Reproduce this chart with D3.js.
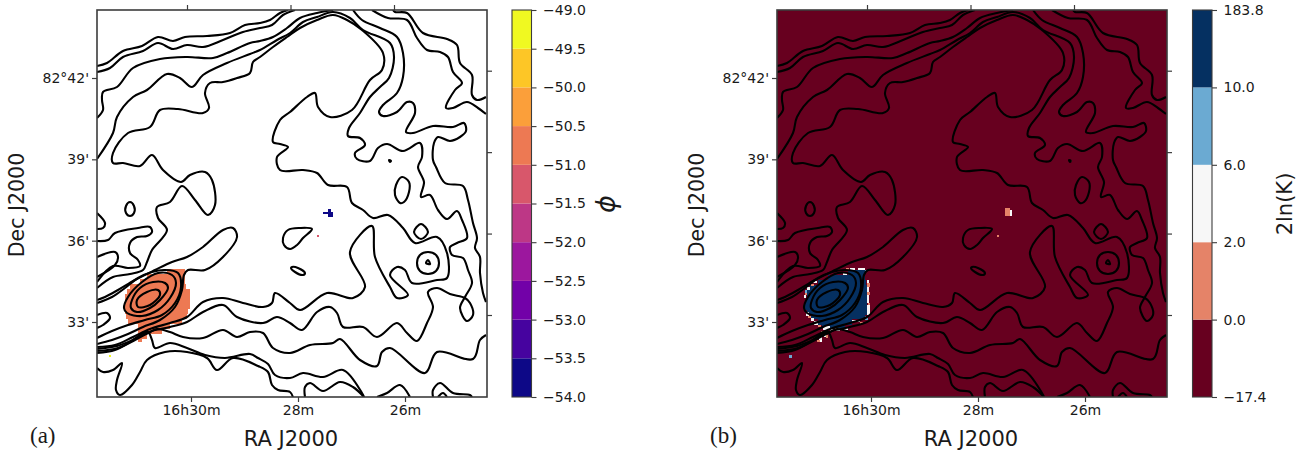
<!DOCTYPE html>
<html><head><meta charset="utf-8">
<script src="https://cdnjs.cloudflare.com/ajax/libs/d3/7.8.5/d3.min.js"></script>
<style>
html,body{margin:0;padding:0;background:#fff}
svg{display:block}
text{font-family:"DejaVu Sans",sans-serif;fill:#1a1a1a}
</style></head><body><svg id="fig" width="1312" height="455"></svg>
<script>
// Tick values
const raTicks = [30, 28, 26];
const raLabels = ["16h30m", "28m", "26m"];
const decTicks = [42, 39, 36, 33];
const decLabels = ["82°42'", "39'", "36'", "33'"];
// Colour-bar values
const phiBounds = [-54,-53.5,-53,-52.5,-52,-51.5,-51,-50.5,-50,-49.5,-49];
const phiColors = ["#0d0887","#46039f","#7201a8","#9c179e","#bd3786","#d8576b","#ed7953","#fb9f3a","#fdc626","#f0f921"];
const kLabels = ["\u221217.4","0.0","2.0","6.0","10.0","183.8"];
const kColors = ["#67001f","#e58368","#f7f7f7","#6baad2","#053061"];
// Map cells on the sky grid: [rowTop, rowBottom, colStart, colEnd]
const phiPatch = [[269,274,167,185],[274,279,147,185],[279,284,140,185],[284,289,130,186],[289,294,127,190],
 [294,299,125,190],[299,309,125,190],[309,314,125,188],[314,319,126,187],[319,324,128,182],[324,329,138,170],[329,334,138,162],[334,339,139,147],[339,342,138,142]];
const phiSpotLow = [[209,212,328,331],[212,214,323,333],[214,217,328,333]];
const phiSpotMid = [[235,237,317,319]];
const phiSpotHigh = [[355,357,109,111]];
const kPatch = [[270,275,168,185],[275,280,148,185],[280,285,138,186],[285,290,130,187],[290,300,127,187],[300,310,125,187],
 [310,315,127,187],[315,319,131,185],[319,325,138,172],[325,328,142,165]];
const kFringeWhite = [[268,270,178,185],[272,275,163,167],[281,283,133,137],[287,290,127,130],[295,298,124,126],[312,316,126,129],[318,321,131,134],
 [280,292,187,189],[295,303,187,189],[305,315,187,190],[268,270,170,175],[321,325,134,138],[326,330,143,150],[328,330,155,168],[320,322,172,180],[329,331,150,160],[333,337,144,147],[337,342,139,142],[210,216,330,332],[208,210,328,330]];
const kFringeOrange = [[268,270,166,169],[284,286,131,134],[292,295,125,127],[316,318,128,131],[292,295,187,190],[303,305,188,190],[283,287,187,190],[325,327,138,141],[331,334,141,145],[335,338,146,148],[340,342,137,140],[322,324,180,183],[208,216,325,330],[235,237,317,319],[160,162,389,392]];
const kFringeBlue = [[270,272,185,187],[290,293,125,127],[316,320,185,188],[355,358,109,112]];
// Contour traces on the sky grid: [col, row]
const contourA = [[97,66],[107,63],[123,51],[142,46],[158,37],[173,41],[185,37],[207,36],[230,33],[245,25],[260,23],[270,20],[280,13],[288,10]];
const contourB = [[97,72],[110,68],[123,57],[143,51],[158,43],[173,49],[187,45],[203,47],[223,40],[243,32],[260,28],[272,25],[283,15],[295,10]];
const contourC = [[97,118],[103,110],[102,100],[103,92],[117,87],[133,68],[160,59],[187,57],[213,58],[227,53],[250,43],[260,41],[273,37],[287,28],[300,18],[317,13],[333,10]];
const contourC2 = [[353,10],[362,20],[380,28],[397,37],[403,53],[403,77],[397,93],[383,105],[379,112],[383,116],[397,112],[407,102],[413,103],[415,113],[406,132],[413,133],[433,126],[453,127],[464,123],[466,131],[460,137],[450,141],[438,137],[434,143],[433,160],[436,167],[445,183],[463,186],[468,200],[473,223],[477,238],[475,248],[480,257],[480,273],[483,293],[486,302]];
const contourD = [[97,159],[113,133],[117,117],[133,97],[147,90],[167,74],[180,78],[192,87],[203,75],[227,63],[250,54],[260,50],[277,40],[290,33],[303,22],[317,17],[333,12],[350,18],[363,30],[390,43],[394,57],[389,78],[380,87],[370,97],[360,113],[349,128],[348,136],[360,138],[365,145],[355,153],[357,159],[370,161],[378,148],[387,144],[403,151],[420,143],[422,157],[418,167],[424,182],[421,197],[430,195],[438,210],[447,219],[457,211],[462,220],[467,238],[457,243],[450,247],[452,255],[463,258],[468,270],[472,283],[465,297],[460,308],[467,321],[473,315],[470,303],[465,298],[450,294],[437,288],[428,292],[433,307],[427,323],[417,341],[407,333],[397,323],[377,337],[363,327],[343,327],[337,313],[330,307],[317,312],[302,330],[290,323],[277,317],[263,323],[237,317],[223,305],[203,312],[187,322],[170,327],[152,331],[135,339],[117,346],[97,349]];
const contourE = [[97,347],[115,345],[133,337],[150,329],[170,323],[187,317],[203,302],[223,298],[243,303],[263,307],[272,303],[275,293],[290,303],[300,310],[327,293],[353,298],[365,287],[350,252],[372,226],[375,257],[390,287],[397,298],[408,295],[390,275],[397,267],[405,270],[412,283],[437,280],[447,278],[447,253],[437,237],[415,243],[403,228],[388,215],[373,218],[363,210],[352,203],[347,187],[328,185],[317,173],[303,170],[280,170],[277,157],[288,147],[280,144],[273,142],[280,120],[290,112],[307,97],[315,93],[318,107],[330,117],[352,110],[370,80],[382,70],[383,53],[362,30],[347,20],[333,15],[317,20],[300,28],[287,37],[273,47],[260,57],[253,62],[250,73],[237,78],[223,82],[210,83],[205,93],[209,108],[203,113],[178,109],[160,110],[150,127],[128,133],[113,153],[113,163],[123,163],[140,166],[152,155],[163,170],[181,182],[190,175],[205,172],[212,180],[215,205],[208,215],[195,200],[182,186],[170,202],[157,207],[158,218],[167,230],[152,250],[147,262],[143,270],[130,274],[113,277],[97,288]];
const contourT = [[97,241],[108,240],[115,233],[138,228],[150,227],[152,232],[147,236],[137,237],[130,243],[130,253],[138,260],[140,266],[128,268],[113,266],[97,282]];
const contourH = [[97,257],[115,252],[118,257],[115,265],[97,277]];
const contourI = [[97,344],[112,340],[128,334],[143,327],[160,320],[175,307],[182,290],[184,275],[188,270],[205,270],[223,257],[237,237],[233,228],[223,230],[203,247],[187,257],[172,262],[155,270],[135,280],[118,290],[105,297],[97,300]];
const contourJ = [[97,303],[112,297],[125,288],[138,278],[152,272],[165,270],[178,273],[181,287],[175,303],[162,315],[145,320],[128,325],[112,331],[97,338]];
const contourL = [[97,351],[118,348],[135,340],[150,332],[157,329],[170,332],[183,337],[203,338],[223,330],[237,337],[250,332],[263,333],[273,348],[290,353],[310,345],[333,343],[340,339],[360,360],[377,366],[382,352],[390,348],[425,373],[437,352],[473,359],[480,340],[486,335]];
const contourM = [[97,353],[115,350],[130,342],[140,335],[148,332],[152,340],[155,348],[170,343],[187,348],[205,355],[225,358],[250,354],[258,358],[268,364],[275,375],[290,378],[303,373],[323,377],[343,370],[362,393],[364,397]];
const contourQ = [[97,368],[103,372],[113,370],[122,363],[117,380],[116,390],[120,395],[132,385],[140,372],[147,360],[165,352],[187,352],[207,358],[217,370],[233,358],[258,366],[268,372],[272,385],[278,390],[290,392],[293,397]];
const contourR = [[305,397],[305,387],[310,383],[323,391],[340,382],[353,387],[364,397]];
const contourS = [[377,397],[387,393],[400,385],[410,397]];
const contourU = [[433,397],[433,390],[440,383],[453,393],[470,395],[472,397]];
const contourV = [[438,397],[443,393],[447,397]];
const contourW = [[372,10],[388,18],[407,20],[417,38],[427,50],[440,52],[448,57],[453,72],[462,83],[455,90],[446,108],[453,108],[467,102],[478,108],[486,114]];
const contourX = [[393,10],[395,12],[407,13],[423,33],[447,39],[457,45],[460,63],[472,75],[472,95],[477,100],[486,97]];
const contourY = [[97,213],[105,223],[103,228],[97,229]];
const contourZ = [[97,315],[107,313],[110,318],[103,325],[97,328]];
const loopA = [[130,202],[134,206],[134,213],[130,216],[126,213],[126,206]];
const loopB = [[402,177],[409,182],[409,192],[404,202],[400,203],[395,195],[396,185]];
const loopC = [[421,224],[428,232],[421,239],[414,232]];
const loopD = [[428,252],[436,255],[439,263],[436,271],[428,274],[420,271],[417,263],[420,255]];
const loopE = [[283,238],[288,230],[300,228],[312,229],[303,238],[297,245],[290,249],[284,245]];
const loopF = [[292,267],[298,268],[305,273],[303,275],[295,272],[291,268]];
const loopG = [[137,300],[147,292],[158,290],[160,295],[150,305],[138,307]];
const loopH = [[132,300],[140,288],[153,282],[165,283],[168,288],[160,300],[150,308],[137,312],[131,308]];
const loopI = [[124,308],[128,297],[142,282],[158,273],[172,275],[176,283],[170,298],[158,310],[142,316],[127,313]];
const loopJ = [[426,263],[428,260],[430,264]];
const loopK = [[389,160],[391,161],[390,162]];
const openContours = [contourA,contourB,contourC,contourC2,contourD,contourE,contourT,contourH,contourI,contourJ,contourL,contourM,contourQ,contourR,contourS,contourU,contourV,contourW,contourX,contourY,contourZ];
const closedContours = [loopA,loopB,loopC,loopD,loopE,loopF,loopG,loopH,loopI,loopJ,loopK];

const gridCols = [97,487], gridRows = [10,397];
const svg = d3.select("#fig");
const frame = "#3c3c3c";

function panel(cfg){
  const [L,R] = cfg.xr, T = 10, B = 397;
  const x = d3.scaleLinear().domain(gridCols).range([L,R]);
  const y = d3.scaleLinear().domain(gridRows).range([T,B]);
  const g = svg.append("g");
  const clipId = "clip"+cfg.name;
  g.append("clipPath").attr("id",clipId).append("rect").attr("x",L).attr("y",T).attr("width",R-L).attr("height",B-T);
  const plot = g.append("g").attr("clip-path",`url(#${clipId})`);
  plot.append("rect").attr("x",L).attr("y",T).attr("width",R-L).attr("height",B-T).attr("fill",cfg.bg);
  cfg.layers.forEach(([rows,col])=>{
    plot.selectAll(null).data(rows).join("rect")
      .attr("x",d=>x(d[2])).attr("y",d=>y(d[0]))
      .attr("width",d=>x(d[3])-x(d[2])).attr("height",d=>y(d[1])-y(d[0]))
      .attr("fill",col).attr("shape-rendering","crispEdges");
  });
  const lineOpen = d3.line().x(d=>x(d[0])).y(d=>y(d[1])).curve(d3.curveCatmullRom.alpha(0.5));
  const lineClosed = d3.line().x(d=>x(d[0])).y(d=>y(d[1])).curve(d3.curveCatmullRomClosed.alpha(0.5));
  plot.selectAll(null).data(openContours).join("path").attr("d",lineOpen)
    .attr("fill","none").attr("stroke","#000").attr("stroke-width",2.1).attr("stroke-linejoin","round");
  plot.selectAll(null).data(closedContours).join("path").attr("d",lineClosed)
    .attr("fill","none").attr("stroke","#000").attr("stroke-width",2.1).attr("stroke-linejoin","round");
  g.append("rect").attr("x",L).attr("y",T).attr("width",R-L).attr("height",B-T)
    .attr("fill","none").attr("stroke",frame).attr("stroke-width",1.6);
  // Axes: the sky grid is slightly curved, so each side has its own scale
  const raB = d3.scaleLinear().domain([30,26]).range([L+94,L+308]);
  const raT = d3.scaleLinear().domain([30,26]).range([L+90,L+297]);
  const decL = d3.scaleLinear().domain([33,42]).range([322,78]);
  const decR = d3.scaleLinear().domain([33,42]).range([315,70.7]);
  const style = s=>{ s.select(".domain").remove(); s.selectAll("line").attr("stroke",frame).attr("stroke-width",1.2);
    s.selectAll("text").style("font-size","14px").attr("fill","#1a1a1a"); };
  g.append("g").attr("transform",`translate(0,${B})`).call(d3.axisBottom(raB).tickValues(raTicks).tickFormat((d,i)=>raLabels[i]).tickSize(5).tickPadding(3)).call(style);
  g.append("g").attr("transform",`translate(0,${T})`).call(d3.axisTop(raT).tickValues(raTicks).tickFormat("").tickSize(5)).call(style);
  g.append("g").attr("transform",`translate(${L},0)`).call(d3.axisLeft(decL).tickValues(decTicks).tickFormat((d,i)=>decLabels[i]).tickSize(5).tickPadding(3)).call(style);
  g.append("g").attr("transform",`translate(${R},0)`).call(d3.axisRight(decR).tickValues(decTicks).tickFormat("").tickSize(5)).call(style);
  g.append("text").attr("x",(L+R)/2-1).attr("y",446).attr("text-anchor","middle").style("font-size","21px").text("RA J2000");
  g.append("text").attr("transform",`translate(${L-79},205) rotate(-90)`).attr("y",6).attr("text-anchor","middle").style("font-size","20.5px").text("Dec J2000");
  g.append("text").attr("x",L-67).attr("y",443).style("font-family","'Liberation Serif',serif").style("font-size","23px").text(cfg.name==="a"?"(a)":"(b)");
}

panel({name:"a",xr:[97,487],bg:"#fff",layers:[[phiPatch,phiColors[6]],[phiSpotLow,phiColors[0]],[phiSpotMid,phiColors[5]],[phiSpotHigh,phiColors[9]]]});
panel({name:"b",xr:[777,1167],bg:kColors[0],layers:[[kPatch,kColors[4]],[kFringeWhite,kColors[2]],[kFringeOrange,kColors[1]],[kFringeBlue,kColors[3]]]});

// Colour bars
function bar(x0,cells,colors,scale,labels,ticks){
  const w = 19.5;
  const g = svg.append("g");
  g.selectAll(null).data(cells).join("rect")
    .attr("x",x0).attr("width",w)
    .attr("y",(d,i)=>scale(ticks[i+1])).attr("height",(d,i)=>scale(ticks[i])-scale(ticks[i+1]))
    .attr("fill",(d,i)=>colors[i]);
  g.append("rect").attr("x",x0).attr("y",10).attr("width",w).attr("height",387).attr("fill","none").attr("stroke",frame).attr("stroke-width",1.1);
  const ax = g.append("g").attr("transform",`translate(${x0+w},0)`)
    .call(d3.axisRight(scale).tickValues(ticks).tickFormat((d,i)=>labels[i]).tickSize(5).tickPadding(6.5));
  ax.select(".domain").remove();
  ax.selectAll("line").attr("stroke",frame).attr("stroke-width",1.1);
  ax.selectAll("text").style("font-size","14px").attr("fill","#1a1a1a");
}
const phiScale = d3.scaleLinear().domain([-54,-49]).range([397,10]);
bar(512,phiColors,phiColors,phiScale,phiBounds.map(v=>"\u2212"+Math.abs(v).toFixed(1)),phiBounds);
const kIdx = d3.range(kLabels.length);
const kScale = d3.scaleLinear().domain([0,5]).range([397,10]);
bar(1192.5,kColors,kColors,kScale,kLabels,kIdx);
svg.append("text").attr("transform","translate(607,204) rotate(-90)").attr("text-anchor","middle").attr("y",8)
  .style("font-size","27px").style("font-style","italic").text("\u03d5");
svg.append("text").attr("transform","translate(1285,204) rotate(-90)").attr("text-anchor","middle").attr("y",7)
  .style("font-size","21px").text("2ln(K)");
</script></body></html>
